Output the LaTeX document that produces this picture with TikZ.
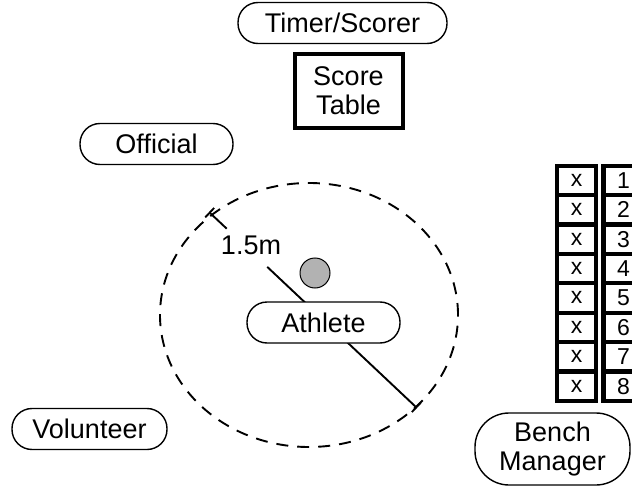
\documentclass[tikz,border=0pt]{standalone}
\usepackage{fontspec}
\setmainfont{Liberation Sans}
\usetikzlibrary{arrows.meta,calc}

\begin{document}
\begin{tikzpicture}[x=1pt, y=-1pt,
  every node/.style={font=\fontsize{27}{29}\selectfont, align=center},
  person/.style={draw, fill=white, line width=1.4pt, rounded corners=20pt, minimum height=41pt, inner sep=0pt},
  cell/.style={draw, line width=4.2pt, minimum width=39pt, minimum height=29.4pt, inner sep=0pt, font=\fontsize{23}{23}\selectfont}]
\useasboundingbox (0,0) rectangle (632,487);

% people round the zone
\node[person, minimum width=209pt] (timer) at (342.5,23) {Timer/Scorer};
\node[draw, line width=4pt, minimum width=108pt, minimum height=73pt, inner sep=0pt] (scoretable) at (348.5,91) {Score\\Table};
\node[person, minimum width=153pt] (official) at (156.5,144) {Official};
\node[person, minimum width=155pt] (volunteer) at (89.5,429) {Volunteer};
\node[person, minimum width=155pt, minimum height=72pt, rounded corners=34pt] (bench) at (552.5,449) {Bench\\Manager};

% 1.5m zone
\draw[dash pattern=on 12pt off 9pt, line width=1.9pt] (309,315) ellipse [x radius=149pt, y radius=132pt];
\node[circle, draw, fill=black!30, line width=1pt, minimum size=30pt, inner sep=0pt] (ball) at (315,273) {};
\coordinate (dimtop) at (209,212);
\coordinate (dimbot) at (417,408);
\node (dimlbl) at (251,245) {1.5m};
\draw[line width=1.9pt, {Bar[width=13pt]}-] (dimtop) -- ($(dimtop)!0.085!(dimbot)$);
\draw[line width=1.9pt, -{Bar[width=13pt]}] ($(dimtop)!0.28!(dimbot)$) -- (dimbot);
\node[person, minimum width=153pt] (athlete) at (323.5,322.5) {Athlete};

% bench seats
\foreach \i in {1,...,8} {
  \node[cell] (seat\i) at (576.5,{180.3+29.4*(\i-1)}) {x};
  \node[cell, minimum width=40pt] (num\i) at (623.5,{180.3+29.4*(\i-1)}) {\i};
}
\end{tikzpicture}
\end{document}
